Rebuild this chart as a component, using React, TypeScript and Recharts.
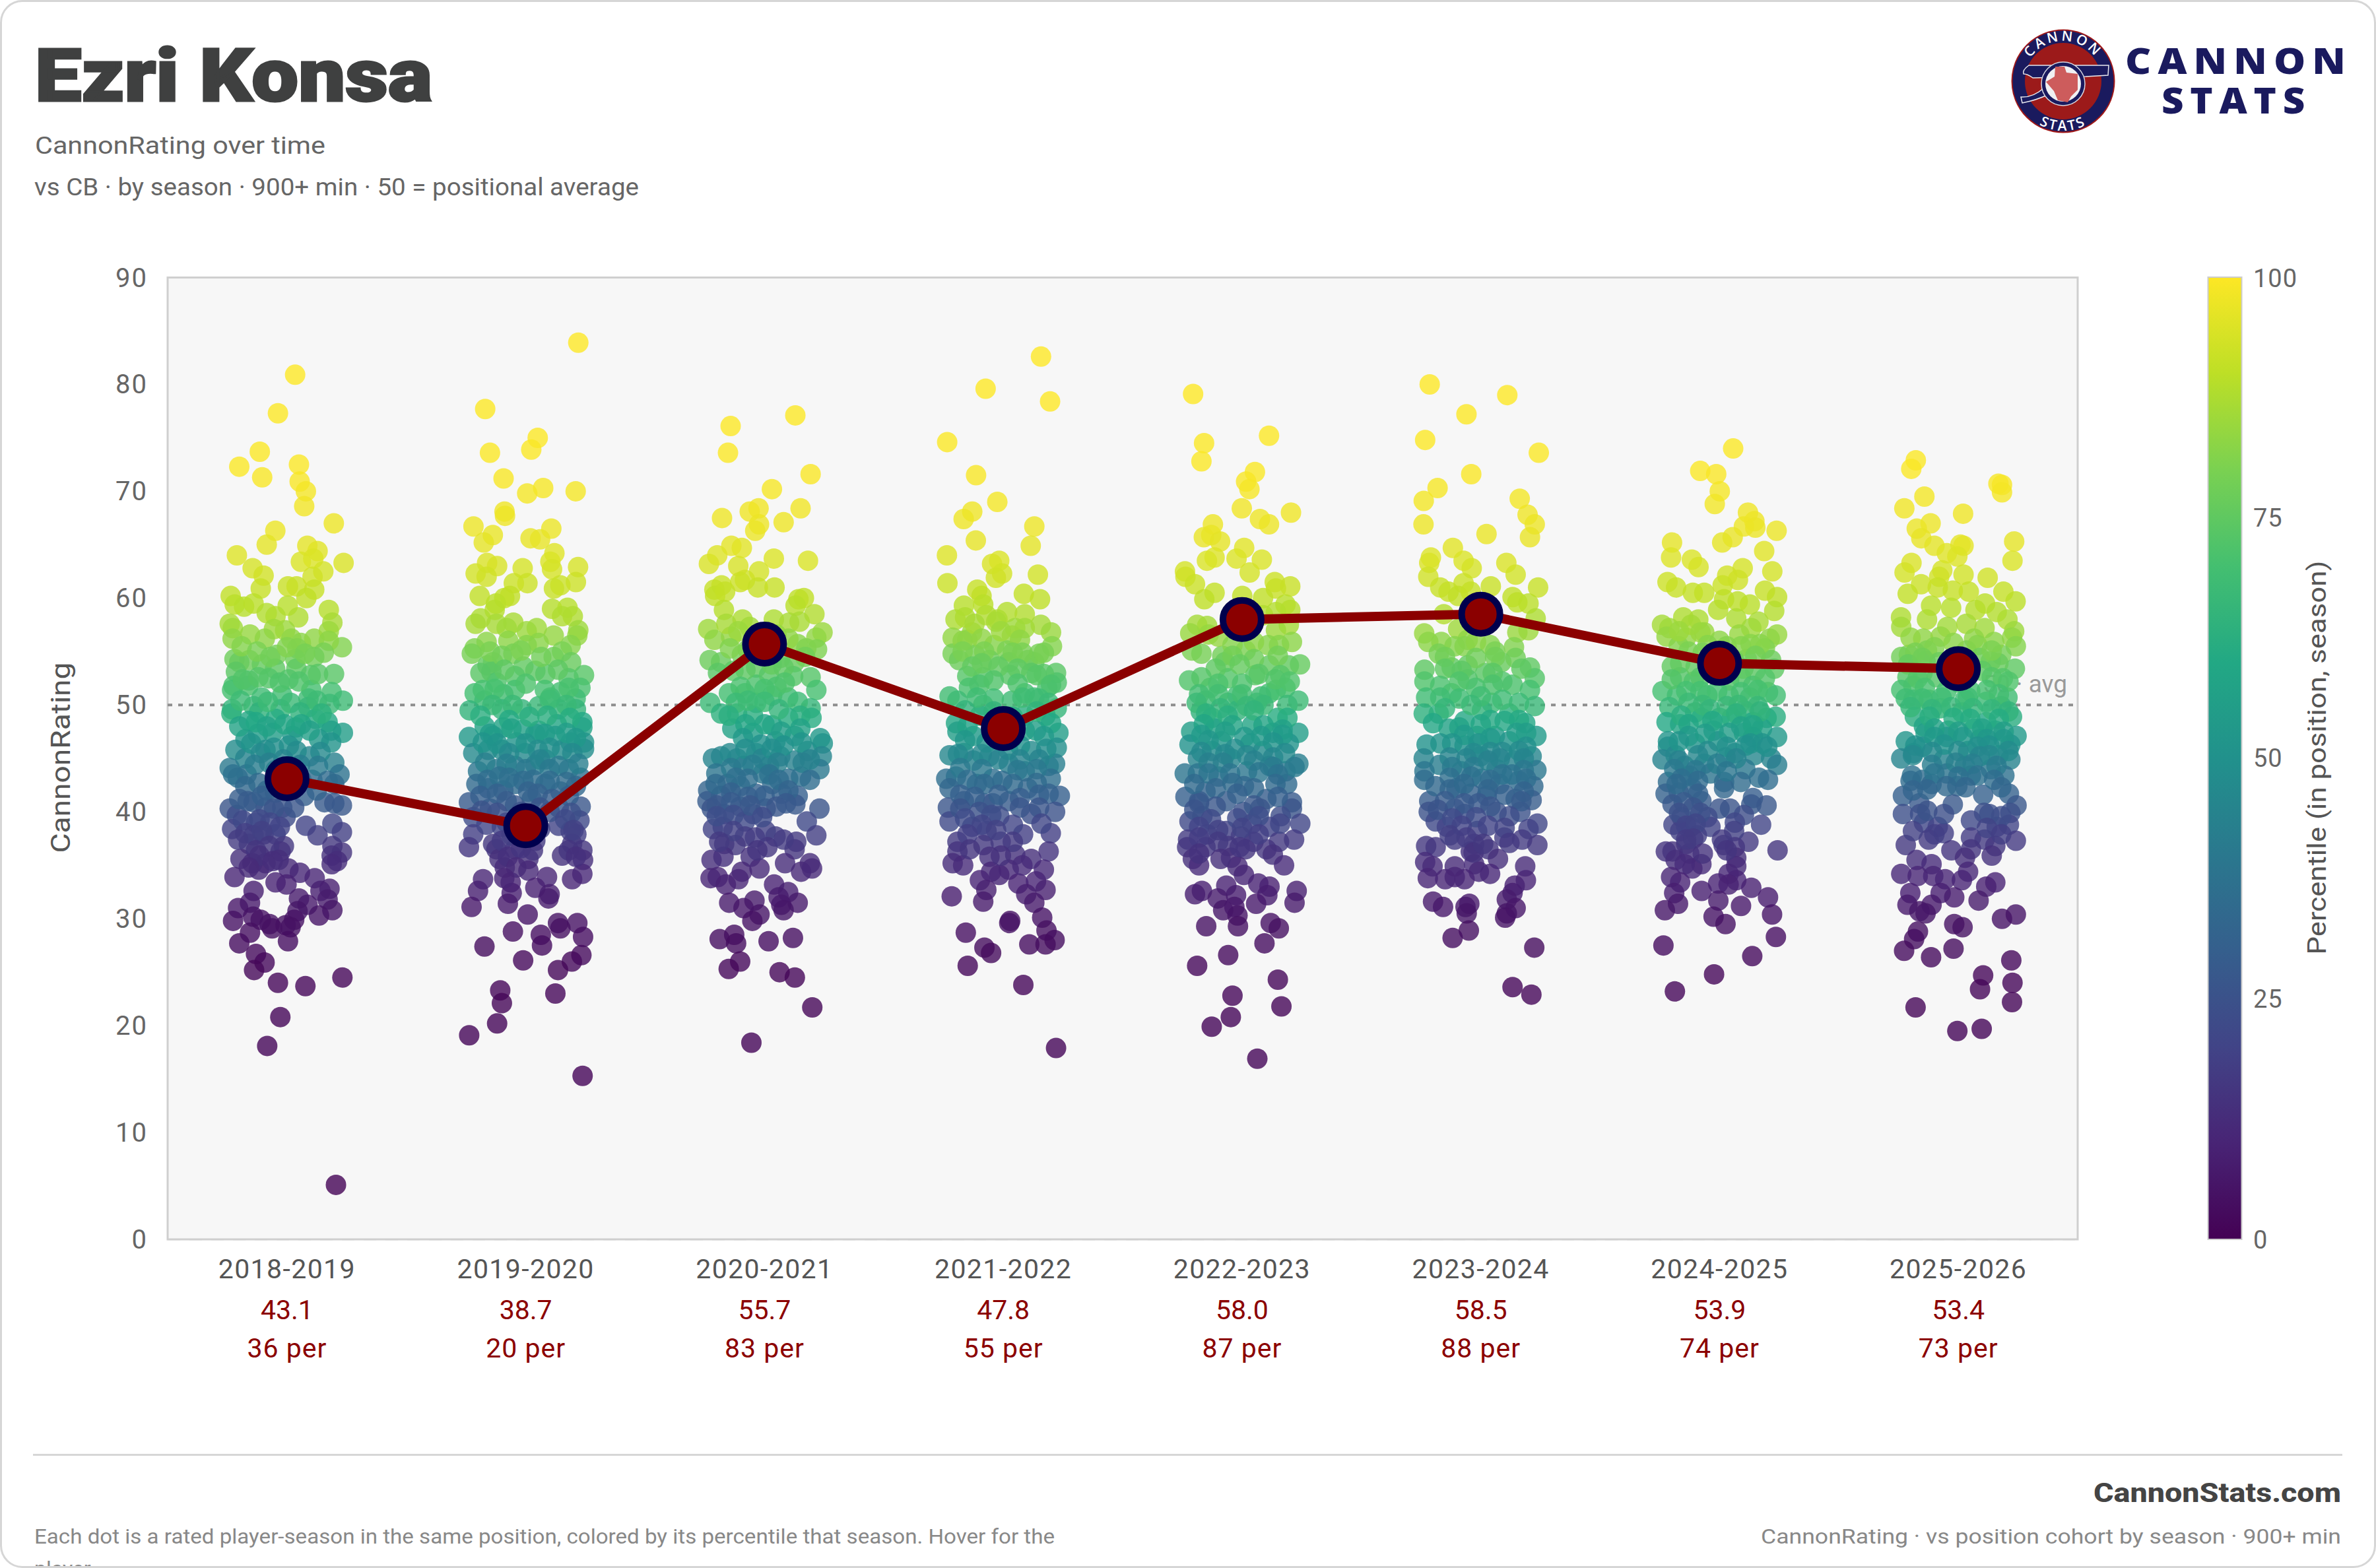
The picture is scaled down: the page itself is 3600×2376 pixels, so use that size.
import React from 'react';
import { ComposedChart, Scatter, XAxis, YAxis, CartesianGrid, ReferenceLine, ReferenceArea } from 'recharts';

const seasons = ['2018-2019','2019-2020','2020-2021','2021-2022','2022-2023','2023-2024','2024-2025','2025-2026'];
const seasonMeans = [43.1,38.7,55.7,47.8,58.0,58.5,53.9,53.4];
const seasonPercentiles = [36,20,83,55,87,88,74,73];
const yTicks = [0,10,20,30,40,50,60,70,80,90];
const colorbarTicks = [0,25,50,75,100];
const ratingToPercentile = [[0,0],[25,1.5],[30,5],[35,12],[38.7,20],[43.1,36],[47.8,57],[50,67],[53.5,75],[55.7,82],[58,87.5],[62,93],[66,97],[72,99.5],[84,100]];
const viridis = ['#440154','#482475','#414487','#355f8d','#2a788e','#21918c','#22a884','#44bf70','#7ad151','#bddf26','#fde725'];

// flat lists: jitter (percent of a season band), rating, jitter, rating ...
const dots2018 = [3.4,80.9,-3.8,77.3,-11.4,73.7,-20,72.3,-10.4,71.3,5,72.5,5.3,70.9,7.9,70,7.2,68.6,19.6,67,-4.9,66.3,-8.5,65,-21,64,8.5,64.9,12.8,64.4,5.8,63.4,11,63.7,23.7,63.3,-14.4,62.8,-9.8,62.1,15.2,62.5,10.7,62,-11,60.9,.4,61.1,4,61.1,11.4,60.8,8.1,60,-23.6,60.2,-21.9,59.4,-18,59.2,-14,59.5,.3,59.3,17.5,58.9,-8.5,58.6,-4.8,58.3,4.7,58.2,19,57.7,-24,57.6,-22.7,57.2,-22.8,56.2,-15.5,56.6,-.8,57,-5.5,57.1,-9.3,56.2,1.8,56.2,5.8,55.8,11.4,56.2,17.5,56.9,23,55.4,17.5,56,4.3,55.3,-22,54.3,-15.8,54.2,-20,54,-10.5,53.8,-4.4,54.7,3.5,54.3,15.4,54.9,11.4,54.5,3.9,53.4,-5,53.4,19.7,52.9,9.9,52.8,-21.4,53.1,-16,52.3,-7.6,52.5,.6,52.4,-22.4,51.8,-16.2,51.8,-23,51.4,10.2,51.4,-2,50.9,18.7,51.2,-10.6,50.7,9,50.6,23.4,50.4,17.8,50.1,-23,49.6,-14,49.9,-23.3,49.2,-2.7,49.6,8.9,49.8,-11.7,49.3,-16,48.5,-4.8,48.7,12,48.7,17,48.4,3.7,47.9,18.5,47.6,23.4,47.4,-12.2,47.3,-6,47.4,-17.4,46.8,2.3,47.1,13.4,46.8,18.5,46.5,.8,46.2,-21.6,45.8,-9,45.8,9.5,45.2,-17.5,45,19.8,44.6,-24,44.1,-22.6,43.5,-16.9,43.5,-20.6,43.2,22,43.5,-4.8,43.9,10.6,43,-8.4,42,19.8,42.6,7.2,41.5,15.7,40.9,23,40.6,19.8,40.8,-24,40.3,-14,40.9,-9,40.4,-2,40.4,-21,39.7,-.6,39.5,-13,39,7.9,38.7,19,38.9,-23,38.4,23,38.1,-4.8,37.9,-9.8,37.9,12.8,37.8,-16,37,-1.3,36.8,-2.7,36.3,19,36.8,23,36.2,18.7,35.9,21,35.4,18.7,35.1,-19.5,35.6,-9,35.2,-11.8,34.6,.6,34.7,5.4,34.3,-22,33.9,11.6,33.8,-4.8,33.4,-.2,33.2,-14,32.6,17.8,32.8,14,32.6,5,31.9,-15.5,31.5,17,31.8,-20.5,31,8.6,31.3,19,30.8,13.4,30.3,4.4,30.7,-14.2,30.2,-11,29.9,-22.6,29.8,3,29.9,-7.3,29.5,-.6,29.4,-6.2,29.1,1.5,29.2,-15.5,28.7,.4,27.9,-20,27.7,-13,26.7,-9.4,25.9,-13.8,25.2,-3.8,24,7.7,23.7,23.2,24.5,-2.8,20.8,-8.3,18.1,20.5,5.1];
const dots2019 = [22,83.9,-17,77.7,5,75,2.3,73.9,-15,73.6,-9.3,71.2,7.3,70.3,.6,69.8,20.9,70,-8.9,68.1,-8.7,67.7,-21.9,66.7,-13.8,65.9,10.7,66.5,-17.6,65.2,2,65.6,6,65.5,12,64.2,10.3,63.4,-16.2,63.3,-12,63,11,62.7,-1.3,62.8,21.9,62.9,-21,62.3,-16.4,62,-5,61.4,.7,61.4,21,61.5,11.8,60.9,14.5,61.2,-19.3,60.2,-6.6,60.2,-9,60,-12.5,59.5,11,59,17.5,59.1,-13,58.9,15.2,58.3,19.7,58.3,-18.9,58.1,-21,57.6,-5.2,57.7,-12.3,57.6,-8,57.2,4.6,57.2,22,57,.4,56.9,11.7,56.5,21.6,56.5,-16.4,55.9,-7.3,56,5.4,55.8,.4,55.6,18.8,55.6,-21.4,55.3,-22.6,54.8,15.2,55,-5.2,54.8,11.7,54.5,-13.7,54,-16,53.7,19,54,-1,53.6,4,53.2,8.2,52.9,24.4,52.8,-4.5,52.7,-14.4,53.1,17.9,52.5,-12.3,52.1,22.9,51.6,-4.5,51.4,14.5,51.2,-21.4,51.1,-9.4,51,10.3,50.7,-17.3,50.4,20.9,50.6,-23.5,49.5,-10,49.6,-1.7,49.6,5.4,49.9,13.8,49.6,21,49.6,23.7,48.4,-17.2,48,-9.4,47.9,-1,47.7,5.4,47.6,13,48.2,23.7,47.9,-23.8,47,-13.7,47.1,-3.8,46.5,4,47.3,12.4,47.1,18.8,46.5,24.4,46.5,-22,45.5,-15.8,45.8,-10,45.8,-.3,45.5,8.2,44.9,15.2,45.8,24.4,45.9,-20,43.8,-12.3,44,-4.5,44.3,4,44.4,13.8,44.3,23,43.2,-20.7,42.6,-15.8,42.2,-4.5,42.6,8.2,42.6,14.5,41.9,2.5,41.2,-9.4,42,-23.8,40.9,-15,40.3,-4.5,40.6,13.8,40.4,23,40.5,-22,39.5,22.5,39.2,-10,38.6,13.8,38.7,18.8,38.2,-22,37.9,21.2,37.9,-13.7,37,-23.8,36.7,4,37.3,19.4,37,-4.5,36.5,15.2,35.9,23.7,36.4,-12.3,36.5,1.1,35.6,24,35.5,-11,35.6,-8.8,34.8,1.1,34.5,23.7,34.2,-17.9,33.7,8.9,33.9,19.4,33.7,-6.3,33.4,-20,32.6,-5.9,32.4,4,32.9,10,32.3,9.5,31.9,-7.5,31.4,-22.7,31.1,.8,30.4,13.5,29.6,21.6,29.6,14.5,29.1,-5.4,28.8,6.3,28.5,24,28.3,-17.3,27.4,6.8,27.5,23.3,26.6,-1.1,26.1,19.3,26,13.5,25.2,-10.7,23.3,12.4,23,-10,22.1,-12,20.2,-23.7,19.1,23.8,15.3];
const dots2020 = [12.9,77.1,-14.2,76.1,-15.3,73.6,19.3,71.6,3.1,70.2,-17.8,67.5,-6.2,68.1,-2.5,68.4,15.1,68.4,8,67.1,-2.3,66.9,-3.9,66.3,-13.9,64.9,-9.5,64.7,-19.8,64,-23.3,63.2,3.9,63.7,18.2,63.5,-11,63,-2.3,62.5,-8.2,61.7,-10.2,61.5,-18,61.2,-21,60.8,-20.7,60.2,-16.5,60.6,-2.8,61,4.2,61,-17,58.9,16.5,60,14.2,59.9,13,59.3,20.9,58.5,-9.2,58,3.9,58,14.7,57.8,10.3,57.7,-23.6,57.1,-6.2,57.3,24.3,56.8,-14,56.4,-21,56.1,13.9,55.7,21.7,56.3,22,55.2,-23,54.2,-18.2,54,-9.5,54.7,12.6,54,-3.5,53.5,-19.5,53,12,52.7,19.3,52.6,-14.9,51.1,-3.5,51.9,1.9,52.8,21.7,51.4,-8.2,51.1,-22.8,50.2,-11.5,49.2,-18.2,49.2,-3.5,50.2,9.9,50.7,19.3,49.7,13.9,50.3,3.2,50.9,-13.5,47.8,-4.8,49,19.7,48.8,9.9,48.8,3.2,48.1,-4.8,47.4,12.6,47.1,4.6,46.6,23.3,46.9,-21.6,45,-18.2,45.2,-11.5,45,-3.5,45.5,18,45.7,24.4,46.4,24,45.2,6.6,45.2,1.9,44.3,12.6,44.8,23,44,-20.2,43.6,-.8,43.6,9.9,43.1,15.3,43.3,-8.8,44.3,-15.5,42.6,-23.6,42,3.2,42.6,-10.2,42.4,13.9,41.5,-3.5,41.7,7.2,41.7,-23.9,41,-18.2,41.5,12.9,40.7,23,40.3,-22.1,40.3,-10.2,40.5,.5,40.3,17.7,39.1,-16.9,39.8,-4.8,39.8,-21.6,38.4,-8.2,39.1,21.7,37.8,-17.5,38.6,4.6,37.7,-8.2,37.7,.5,38.2,13.3,37.2,-12.2,36.9,1.2,36.7,-16.9,37,12.6,36.5,-22.2,35.5,-17.2,35.8,-5.8,35.8,8.6,35.2,-2.1,34.7,19,35.2,-9.5,34.4,-22.6,33.8,15.3,34.4,19.9,34.7,-19.6,33.9,-10.9,33.7,-16.2,33.2,4,33.2,9.9,32.5,5.9,32,-14.8,31.5,-4.2,31.7,13.9,31.5,7,31.3,-8.8,31,8,30.8,-2.1,30.4,-5.1,29.8,-12.7,28.5,-18.8,28.1,-11.9,27.7,1.7,27.9,11.9,28.2,-10.2,26,-15,25.3,6.3,25,12.7,24.5,20,21.7,-5.5,18.4];
const dots2021 = [15.8,82.6,-7.4,79.6,19.6,78.4,-23.5,74.6,-11.4,71.5,-2.5,69,-13,68.1,-16.6,67.4,13,66.7,-11.5,65.4,11.5,64.9,-23.6,64,-1.7,63.5,-4.7,63.2,-.5,62.3,14.5,62.2,-3.1,61.9,-23.4,61.4,-10.9,60.8,-9.1,60.2,8.6,60.4,15.4,59.9,-16.5,59.3,-8.4,59.4,1.6,58.7,9,58.5,-20,58,-7.1,58.4,-2.4,58,9,57.2,15.7,57.5,20,56.8,-13.1,56.8,3.6,56.5,-21.2,56.3,-15.1,56.1,20.4,55.5,-3.8,55.6,-21.2,54.8,-11.8,54.7,1.6,55.1,13,54,10.3,54.2,-18.5,54.2,-5.8,54.2,2.3,54,-15.1,52.7,-8.4,52.6,22.1,53,11.7,53,22.4,52.1,2.9,52.8,-14.4,51.6,9,51.1,18.4,51.6,-22.5,50.8,-19.2,50.4,-8.4,50,3.6,50.4,13,50.7,22.4,49.7,-19.8,48.3,-9.8,49,9,49,17.7,49,-19.2,47.5,23.1,47.4,-12.5,47.1,13.7,47.6,22.4,46,3.6,46.9,-22.5,45.3,-16.5,45.5,-5.8,45.2,11.7,45.7,2.3,44.5,19,44.3,-12.5,44.8,21.7,44.5,-23.9,43.1,-4.4,43.1,9,43.8,19.9,43.1,-19.8,43.3,-11.1,42.6,-.4,42.9,-22.5,42.2,10.3,42.2,23.7,41.5,-16.5,41,-7.8,40.8,2.3,41,19,41.7,-23.2,40.4,-4.4,40.8,21.7,40,-22.5,39.1,11.7,39.8,-1.7,39.6,-13.1,38.6,8.3,37.9,-7,38.2,19.9,38,-19.2,37.2,-8.3,36.9,-1.1,37.2,-19.2,36.3,19,36.3,-21.2,35.2,5,36,-5.8,35.8,-16.8,35,11.7,35.6,-5.1,34.4,17,34.6,2.3,34.6,-9.8,33.6,-1.7,34.1,6.3,33.3,13.7,33.5,-7.1,32.7,-21.6,32.1,17.7,32.7,9.6,32.3,-8.4,31.6,13,31.5,16.3,30.1,2.9,29.8,2.5,29.6,-15.7,28.7,18.1,28.9,21.5,28,10.9,27.6,17.7,27.6,-7.9,27.3,-5.1,26.8,-14.9,25.6,8.4,23.8,22.1,17.9];
const dots2022 = [-20.5,79.1,-15.9,74.5,11.3,75.2,-17,72.8,5.4,71.8,1.7,70.9,3.1,70.2,-.1,68.4,20.5,68,7.5,67.4,11.3,66.9,-12.2,66.9,-16,65.7,-12.9,65.9,-9.2,65.3,.9,64.7,-11.5,63.8,-14.7,63.5,-2.3,63.7,8.3,63.6,-23.9,62.5,-23.7,62,3.2,62.4,-19.7,61.3,13.7,61.5,20.2,61.1,14.2,60.9,-11.5,60.5,-15.8,59.9,.1,60.2,8.8,60,18.2,59.4,20.2,58.9,14.2,58.7,8.8,58.4,-18.8,57.5,-14.6,57.4,-21.7,56.7,19.6,57.5,-14,56.6,14.2,57,-21,55.1,-8.3,54.6,20.9,55.9,10.9,55.6,15.5,55.6,1.5,55.1,-7.2,54,11.4,53.7,24.3,53.8,19.6,53.7,5.5,52.8,-22.2,52.3,-13.3,51.6,-5.9,52.5,11.4,51.1,18.2,51.6,-1.9,50.9,23.6,50.4,-15.3,50.4,-5.9,50.2,6.2,50.2,14.2,51.4,-17.3,49.4,14.9,48.8,-12.6,48.8,-1.9,49.5,4.2,48.1,-21.3,47.5,23.6,47.4,-11.3,47.8,12.9,47.4,-22,46.3,-8.6,46.6,19.6,46.4,3.5,46.4,-12.6,45.7,8.8,45.7,-18.5,45,23.6,44.5,-4.6,45,-24,43.6,-18.5,43.6,11.5,44.3,18.2,43.8,2.1,43.8,-9.9,43.3,18.9,42.6,-15.3,41.9,.8,42.4,10.2,41.2,-23.7,41.4,-6.6,41,20.9,40.9,-18,41,.5,40,7.5,40.3,20.9,40.3,-22,39.1,-16.6,39.6,16.2,39.6,24.4,38.9,-6.6,38.2,4.2,38.9,11.5,38.6,-14.6,37.9,-22.6,37.4,21.8,37.4,-.5,37.7,4.8,37.2,15.5,37.2,-23,36.7,-15.3,36.7,-5.9,36.8,1.5,36.5,10.2,36.5,-20.6,35.6,-4.6,35.7,12.9,36,-18,35,17.6,35,-1.9,34.9,.8,34.1,-6.6,33.1,6.8,33.3,11.5,33,22.9,32.6,-16.8,32.6,-19.7,32.3,-2.5,32.2,-10.2,31.9,10.6,32.2,22,31.5,-7.9,30.8,-3.2,31.1,5.9,31.4,-1.9,30.3,-15,29.3,12,29.6,-1.7,29.3,15.4,29.1,9.4,27.7,-5.8,26.6,-18.8,25.6,15,24.3,-4,22.8,16.5,21.8,-4.7,20.8,-12.7,19.9,6.4,16.9];
const dots2023 = [-21.4,80,11.1,79,-6,77.2,-23.3,74.8,24.3,73.6,-4,71.6,-18.1,70.3,-23.9,69.1,16.3,69.3,19.6,67.8,-24,66.9,22.6,66.9,2.4,66,20.6,65.7,-11.7,64.7,-20.9,63.8,-21.6,63.3,-7.2,63.5,10.7,63.3,-3.8,62.8,-22,62,14.6,62.2,-7.2,61.4,4.2,61.1,-17,61,24,61,-13.5,60.6,-9.5,60.2,13.3,60.1,15.3,59.6,-4.2,60.6,20,59.5,-15.5,58.5,23,58.1,-9.5,57.1,20,57,15.3,56.8,-23.7,56.7,-16.5,55.9,-5.5,56.1,-22,55.9,3.9,55.6,-6.8,55.5,13.9,55.4,-17.6,54.8,8.6,54,14.6,54.4,20.6,53.5,-5.5,53.7,-23.6,53.3,-12.2,53.5,1.9,53,-23.6,52.2,9,52.2,22.6,52.5,-5.5,52.4,-12.2,51.1,13.3,51.9,-2.1,51.6,-22.9,50.7,20.6,51.4,4.6,50.2,22.6,49.9,-17.6,49.2,-23.9,49.2,.5,49.5,11.9,49.2,-6.8,48.5,18.6,48.3,-13.5,47.8,5.9,47.1,23.3,47.1,-1.5,47.1,-22.7,46.3,11.9,46.6,-6.8,46.2,-16.9,46.4,21.3,45.2,-23.9,45,-.1,45.2,14,44.8,-17.3,44.4,-23.6,43.8,-8.2,43.8,6.6,44,23.3,43.9,.5,43.1,-23.7,43,15.9,42.9,-10.2,42.2,7.9,42.6,22,42.4,-4.2,41.7,2.5,41.5,14.6,41.2,21.3,41.1,-21.6,41,-10.9,40.3,-21.8,40,6.6,40,-18.9,39.1,-6.8,39.8,23.7,38.9,16.6,40,-14.2,38.6,-1.5,38.2,20,38.4,9.9,37.6,-10.9,37.4,17.3,37.4,-22.9,36.8,-2.8,37,-18.9,36.7,23.7,36.9,3.2,36.5,-4.2,36.3,7.2,35.6,-23.3,35.3,-10.9,34.9,18.6,34.9,-2.8,35.1,-20.2,34.9,-22.2,33.8,-14.9,33.7,-.8,34.4,-10.9,33.9,3.9,34.2,-6.8,33.7,18.9,33.6,14.2,33.1,13.3,32.4,10.9,31.8,-20,31.6,-15.8,31.1,-4.8,31.4,14.6,31,-6.4,31.1,-5.9,30.5,10.9,30.5,10.2,30.1,-5,28.9,-11.8,28.2,22.4,27.3,13.3,23.6,21.2,22.9];
const dots2024 = [5.7,74,-8.1,71.9,-1.4,71.6,.1,70,-2,68.8,11.9,68,10.2,66.7,14.6,67.2,15,66.6,23.9,66.3,5.5,65.7,1.1,65.2,-19.9,65.2,-20.3,63.8,18.7,64.4,-11.6,63.6,-8.8,62.9,22.1,62.5,9.7,62.8,3.2,62.1,7.7,61.7,-21.8,61.5,-18.2,61,1.3,61.2,19,60.7,24.1,60.1,-11.2,60.5,-6.4,60.5,1.9,59.9,12.7,59.4,7.6,59.7,22.9,58.8,-.6,58.9,-15.2,58.2,7,58.1,-8.9,58,16.3,57.8,-24.1,57.5,-21,57.2,13.3,57.2,-6.4,56.8,8.3,56.6,24.1,56.6,-22.2,56.4,-14,56.3,21,56.2,19,55.3,-17.1,55.5,-16.5,53.9,11.4,54.3,21.6,54.2,-16.5,52.6,22.9,53.4,-10.8,52.2,8.9,52.6,-23.9,51.3,3.8,50.9,-5.1,50.9,20.3,51.2,23.5,50.9,-17.8,50.9,12.7,50.7,-21,49.8,-10.2,49.3,10.2,49.5,0,48.8,23.5,48.9,19.7,48.8,-22.2,48.4,-7.6,48.8,14,48.4,5.1,48.8,-2.5,47.6,-16.5,48.2,17.8,47.8,24.1,47,10.2,47.4,-21.6,46.6,-10.2,46.4,14,47,-.6,46.6,-21.6,46.1,6.4,45.5,-23.9,44.9,2.5,45.1,-18.4,45.3,21.6,45,24.1,44.4,-14.6,44.3,14.6,45.3,-6.4,44.5,10.8,44,-3.8,43.6,-12.7,43.4,16.5,43.2,20.3,43,1.9,42.8,-21.6,42.8,8.9,42.8,-22.6,41.7,1.9,42.2,-11.4,42.2,-17.1,41.8,14,41.3,-7.6,41,19.7,40.6,-19.7,40.7,13.3,40.7,0,40.3,4.4,40.3,-15.9,39.5,10.2,39.7,-5.1,39.5,17.4,38.8,-19.3,38.8,6.4,39,-12.1,38.6,-3.8,38.6,-9.5,37.8,-16.5,38.2,12.1,37.2,-14,37,1.7,36.9,6.1,38.2,24.3,36.4,-22.5,36.3,6.4,36.7,-19.7,36.3,-12.7,36.1,-18.4,35.5,7,35.7,-7.6,35.1,-11.4,34.7,-14.6,35.1,7,34.9,3.8,34.2,-20.3,33.9,-16.5,33.4,-.6,33.3,7,33.6,3.8,33.2,13.3,32.9,-7.5,32.6,-19,32.4,20.3,32,-.5,31.7,-17.4,31.4,9,31.2,-22.9,30.8,22,30.4,-2.5,30.2,2.5,29.5,23.6,28.3,-23.5,27.5,13.7,26.5,-2.3,24.8,-18.7,23.2];
const dots2025 = [-17.8,72.9,-19.7,72.1,16.8,70.7,18.3,70.6,18.3,69.9,-14.2,69.5,-22.6,68.4,2,67.9,-11.6,67,-17.4,66.5,-15.5,65.6,.9,65,2.2,64.9,23.4,65.3,-10,64.9,-4.8,64.2,22.7,63.5,-19.6,63.3,-22.5,62.4,-.4,63.9,-6.7,62.6,2.2,62.2,-15.6,61.3,12.3,61.9,-8,62,-21.2,60.4,-8.6,61,4.4,60.6,18.9,60.6,24,59.7,-2.3,60.7,-11.4,59.3,11.2,59.5,-3,59.1,16.1,58.7,-24,58.2,-13.1,58,-23.9,57.3,7.2,58.9,20.6,58,-4.6,57.3,3.4,57.6,11,57.2,-14.7,56.2,23.4,56.9,-7.4,56.4,6.6,56.2,22.5,56.3,24.1,55.5,-13.1,55.1,3.4,55.1,-23.9,54.5,-20.7,54.7,18,54.7,13.6,54.1,23.7,53.4,-13.7,54.1,16.8,53.9,-21.3,52.6,18.7,52.5,-15,53,-23.9,51.4,-18.8,51.8,20.6,50.7,11.7,50.3,-12.4,50.5,2.8,50.5,-7.4,49.7,-18.8,50.5,1.5,49.3,18,49.9,-18.2,48.9,22.5,48.9,-14.4,48,11.7,48.4,-4.2,47.6,6.6,47.8,24.4,47.1,-13.7,47.4,15.5,47.6,-4.8,47,-22,46.6,9.1,46.8,21.8,46.3,-15,46.1,-23.9,45,-18.8,45.5,-6.1,44.9,4.1,45.7,16.8,45.3,21.8,44.9,2.8,44.3,13.6,44,-19.4,43.4,-15,43,-4.8,43.6,19.3,43.4,5.3,43.4,-11.2,42.6,-.4,42.4,-23.2,41.5,10.4,41.6,21.2,41.7,-16.3,40.8,-2.3,40.7,24.4,40.6,-23.2,39.8,21.8,39.9,10.8,39.9,-14.4,39,5.3,39.2,21.2,38.8,-8.6,38.6,16.1,38.6,-12.4,37.4,-6.1,38,24.1,37.3,5.3,37.6,-22,36.9,11,37.4,-2.9,36.4,15.5,36.8,5.3,36.5,14,35.9,-17.5,35.5,2.8,35.7,-23.9,34.2,-11.2,35.1,-17,34,4.1,34.4,-10.5,34,-5.5,33.7,15.5,33.4,1.5,33.6,-20.1,32.4,11.7,33,-7.4,32.4,-1.7,32,8.5,31.7,-21.3,31.3,-11.2,31.3,-13.7,30.5,-16.3,30.7,24.1,30.4,18.3,30,-1.7,29.5,1.8,29.2,-16.9,28.8,-18.5,28.1,-22.7,27,-2,27.2,-11.4,26.4,22.2,26.1,10.4,24.7,22.7,24,9.1,23.4,22.5,22.2,-17.9,21.7,9.8,19.7,-.4,19.5];
// the packed centre of each column, where single dots can no longer be told apart
const core2018 = [-19,55.5,-12.5,55,-7,54.5,0,55.4,7.5,54.8,-18.5,52.4,-12,52.6,-3,52.1,5,52.2,13,52.9,-19.5,50.4,-8,50.3,1.5,50.2,5.5,49.3,12.5,50.4,-20,48,-13,48.4,-8.5,48,-1,48.2,6,48.2,9.5,47.6,14.5,49.2,-15,46.4,-11,45.5,-5.5,46,4,45.7,14,45.6,-13.5,44.4,-7.5,44.6,-1.5,44.9,5.5,44.4,13,44.3,17,42.9,-17.5,42.4,-12,42.7,-5,41.8,1.5,42.6,6,43,12.5,42,-20,41.2,-16.5,41,-10.5,41.5,-5.5,40.3,3,40.4,-18.5,39.2,-11.5,39.3,-7,39,-3,38.6,-17.5,38,-14,37.8,-10.5,38.2,-20.5,37.4,-13,36.4,-7.5,36.8,-14.5,35.2,-11.5,35.9,-6,35.4,-16,34.8,-3.5,35.5];
const core2019 = [-15,55,-10,54.6,-2,55.1,6.5,54.5,-19,53,-9,53.3,13.5,53.3,-18,51.4,-13,51.5,0,52,8,51.4,18,51.6,-14,50,-5.5,50,10,50.5,17,50,-19,49,-7,48.6,1.5,48.9,9,49,18.5,48.8,-15,47.3,-6,47.8,8,47.3,17,47.4,21,46.9,-18,46.5,-12,46.4,-7,45.5,0,46.4,5,45.8,10,46,19.5,45.5,-17,44.6,-8,44.5,0,44,6,44.9,10,44,18,44,22,44.5,-16,43,-11,43.3,-7,43.2,-1,42.9,3,43,10,42.9,17,42.8,21,42.4,-19,41.5,-12,41.7,-8,41,1,41.9,5,41.7,11,41.2,18,41.5,-18.5,40.1,-12,39.9,-2,40,6,40.4,10,40,19,39.9,-16.5,38.8,-8,39,-1.5,39.4,3,38.8,16.5,39.3,20,38.3,-10,37.3,-6,37.8,-1,37.6,6,38.4,18,36.4,-7.5,35.8,-2,36.6,3,36.4,21,35.8,-4,34.8,-9,33.8];
const core2020 = [-16,57.6,-11,56.9,-3,56.5,5,56.6,10,56.2,17.5,55.3,-14.5,55.3,-7,55.2,0,55,6.5,54.4,17,54.5,-13,53.2,-8,53.3,3,53.8,8,53.5,-10,51.7,0,51.5,5,51.7,8.5,52.1,-12,50.2,-7,50.4,0,50.3,6,49.6,15,49,-15,49,-8,48.2,0,48.2,7,47.5,15,47.8,-9,46.9,-1.5,46.3,8,46.2,15.5,46.5,-8,45.9,-14.5,45.5,-1,45,3,45.9,19,44.9,-14,44.1,-5,44.4,5.5,44.6,16,44.6,-12,43.2,-7,43.1,2,43.5,6,43,19,43,-20.5,42.6,-14,41.8,-7,41.4,0,41.5,10,42,-20,40.6,-14,40.9,-6,40.6,5,40.5,9,40.8,-20,39.6,-13,39.7,-1,39.5,-13,38.2,-4,37.6,-19,37.2,8,37.4,-3,36.4];
const core2021 = [-16,58.2,-12,57.6,-3,57.8,5,57.2,-17,56,-9,56.2,-1,56.9,7,56.1,15,54.8,-17,55,-8,55,4,54.9,8,54.9,17,54.9,-13,53.6,-9,53.9,-2,53.6,6,53.4,17,52.9,-10,51.9,-4,52.3,6,52,14,52.8,20,51.9,-11,50.7,-4,50.6,8,50.7,15,50.6,19,50.2,-16,49.5,-4,49.4,4,48.9,14,49.4,20,48.3,-15,48,-5,47.9,3,48.1,9,47.6,17,47.1,-16,46.7,-7,46.5,2,45.8,7,46.2,18,45.9,-19,45.4,-9,45.4,-2,44.9,7,44.9,15,44.9,-18,44.1,-9,44,6,43.9,14,44,-15,43,-8,42.6,4,42.6,14,42.7,-18,41.6,-12,41.4,-2,41.6,7,41.3,15,41.6,-18,40.3,-10,40,-5,39.7,7,40.4,15,40.4,-16,39.4,-9,38.8,4,38.8,16,38.9,-15,37.9,-3,38.3,4,37.2,-14,36.5,-1,35.9,8,35];
const core2022 = [-10,56.4,-4,55.6,5,55.9,-17,54.8,-4,54.6,5,54.3,15,54.6,-11,53.4,-1,53.8,7,52.9,16,52.8,-17,52.6,-10,52,0,52,14,52.4,20,52.2,-18,51,-10,51,0,51,8,50.8,-19,50.2,-9,49.7,2,49.9,9,50,19,50,-15,49.2,-6,49,5,49.5,19,48.8,-16,48.2,-4,48.1,9,48.1,17,47.7,-17,47.2,-7,47.5,1,47,8,47.1,17,47.2,-14,46.7,-3,45.9,13,46.5,-17,45.6,-7,45.4,2,45.3,13,45.1,18,45.5,-14,44.6,-8,44.6,5,44.8,13,44.2,22,44.2,-14,43.6,-5,43.6,7,43.7,15,43.5,-20,42.6,-11,42.2,-4,42.7,5,42.2,14,42.6,-18,40.8,-11,40.5,-2,41.7,5,40.6,15,41.4,-20,40.2,-13,39.3,-2,39.4,7,39.6,16,38.9,-18,38.6,-10,38.3,0,38.5,7,37.9,-18,37.6,-10,37.2,-1,36.7,-18,36.1,-9,35.6];
const core2023 = [-11,55.5,-2,55.9,6,55,-15,54.5,-2,54.4,6,54.5,-15,53.4,-8,53.2,5,53,17,53.4,-17,51.8,-9,52.2,5,51.9,-17,50.7,-9,50.6,0,50.8,9,50.5,16,50.2,-15,49.7,-4,50,4,48.6,16,48.6,-20,48.3,-9,47.9,0,48.2,10,48.5,19,47.4,-7,47.2,-1,46.4,4,46.9,15,47.4,19,46.1,-12,46.4,-3,45.5,4,45.6,9,45.6,16,45.7,-13,45.1,-6,45,8,45,18,45,-12,44.2,-3,44.2,3,44.8,9,43.5,18,43.9,-13,43.2,-4,43.3,4,43,13,43.5,19,43.1,-19,42.4,-13,42.1,-7,42.6,3,42.1,10,41.6,18,41.9,-15,41,-7,40.8,-1,40.8,4,40.5,17,41,-18,40.2,-12,39.4,-2,39.5,12,39.6,-8,38.7,3,38.7,10,38.5,-6,37.6,-13,37.8,-3,36.2,1,37,12,37.1];
const core2024 = [-12,57.5,-8,56.8,0,56,13,55.7,-17,56.9,-5,55.6,3,55.5,9,55.5,17,55.7,-13,55,-7,54.9,1,54.6,6,54.2,15,54.6,-20,53.6,-10,53.6,-3,53.8,3,53.6,10,53.4,15,53.2,-20,52.4,-8,52.6,-1,52.7,4,52.3,14,51.8,19,52.5,-14,51.3,-8,51.3,-1,51.3,9,51.2,16,51.4,-13,50.2,-7,50,3,49.9,8,50,16,49.9,-16,49,-4,49.6,7,49.2,17,49.4,-13,48.2,-3,48.5,9,48,14,48.1,-13,47.1,-6,47.3,4,47.4,13,46.4,18,46.4,-17,46.6,-5,45.7,3,46.1,11,46.2,20,46.1,-17,44.8,-9,45.3,7,45,-19,44,-10,43.9,-1,44.5,3,43.8,-16,43.1,-9,42.9,-18,42.6,-9,41.7,-15,40.9,-11,40.4,-17,39.9,-8,39.9,-14,38.7,-10,38.9,-14,37.4,-11,37.5,1,37.4,3,36.4,-7,36.1];
const core2025 = [-20,56.3,-10,55.4,-2,55.8,8,55.6,15,55.9,-18,54.9,-8,54,0,54.3,9,54.4,14,55.1,-21,53.8,-15,54.4,-4,53.1,5,53,10,53.2,-17,52.5,-9,52.6,0,52.1,14,52.6,21,52.2,-14,51.6,-5,51.3,5,51.3,17,51,-22,50.6,-15,50.6,-7,50.7,4,50.7,12,51.4,-20,49.8,-11,49.6,-3,49.8,6,49.7,14,49.6,21,49.4,-12,48.9,-2,48.8,5,48.7,17,48.7,-10,47.8,0,47.5,10,47.8,19,47.5,-10,47,2,47,12,46.8,19,46.8,-18,46.2,-6,46.3,8,46.1,13,46.2,-19,45.3,-11,45.6,0,45.7,9,45.2,13,45.3,21,45.7,-11,44.4,-1,44.6,6,44.5,16,44.3,-20,42.9,-10,43.6,0,43.3,8,43.4,15,43,-19,42,-13,42.1,-5,42.4,3,42.3,18,42.3,-16,39.8,-13,40.1,-6,39.8,13,39.8,18,39.6,-19,38.2,-10,37.9,12,38.5,18,37.9];
const dotLists = [dots2018.concat(core2018),dots2019.concat(core2019),dots2020.concat(core2020),dots2021.concat(core2021),dots2022.concat(core2022),dots2023.concat(core2023),dots2024.concat(core2024),dots2025.concat(core2025)];

const hexToRgb = (h: string) => [1,3,5].map(i => parseInt(h.slice(i,i+2),16));
const viridisAt = (p: number) => {
  const t = Math.max(0,Math.min(100,p))/10;
  const i = Math.min(9,Math.floor(t));
  const a = hexToRgb(viridis[i]); const b = hexToRgb(viridis[i+1]);
  const f = t-i;
  return `rgb(${a.map((v,k)=>Math.round(v+(b[k]-v)*f)).join(',')})`;
};
const percentileOf = (r: number) => {
  for (let i=1;i<ratingToPercentile.length;i++){
    const [r0,p0]=ratingToPercentile[i-1]; const [r1,p1]=ratingToPercentile[i];
    if (r<=r1) return p0+(p1-p0)*(r-r0)/(r1-r0);
  }
  return 100;
};
const cohortDots = dotLists.flatMap((list,s)=>{
  const out: any[] = [];
  for (let i=0;i<list.length;i+=2) out.push({x:s+list[i]/100,y:list[i+1],fill:viridisAt(percentileOf(list[i+1]))});
  return out;
});
const meanSeries = seasonMeans.map((y,x)=>({x,y}));

const FONT = 'Roboto, sans-serif';

const Dot = (p: any) => <circle cx={p.cx} cy={p.cy} r={15.5} fill={p.payload.fill} fillOpacity={0.8} />;
const MeanDot = (p: any) => <circle cx={p.cx} cy={p.cy} r={29} fill="#8b0000" stroke="#00004d" strokeWidth={10} />;

const SeasonTick = (p: any) => {
  const i = p.payload.value;
  return (
    <g fontFamily={FONT} textAnchor="middle">
      <text x={p.x} y={1937} fontSize={41} fill="#555" letterSpacing={1.4}>{seasons[i]}</text>
      <text x={p.x} y={1999} fontSize={41} fill="#8b0000">{seasonMeans[i].toFixed(1)}</text>
      <text x={p.x} y={2057} fontSize={41} fill="#8b0000" letterSpacing={1}>{seasonPercentiles[i]} per</text>
    </g>
  );
};
const YTick = (p: any) => (
  <text x={224} y={p.y+14} textAnchor="end" fontFamily={FONT} fontSize={40} fill="#666" letterSpacing={2}>{p.payload.value}</text>
);
const AvgLabel = (p: any) => {
  const v = p.viewBox;
  return <text x={v.x+v.width-16} y={v.y-19} textAnchor="end" fontFamily={FONT} fontSize={37} fill="#999">50 · avg</text>;
};

const T = (p: any) => <text fontFamily={FONT} lengthAdjust="spacingAndGlyphs" {...p} />;
const OPEN = "'Open Sans', sans-serif";

const Logo = () => (
  <g>
    <circle cx={3126} cy={123} r={77.5} fill="#1a1a5e" stroke="#a01818" strokeWidth={2} />
    <circle cx={3126} cy={123} r={58} fill="#9c1a1a" />
    <defs>
      <path id="arcTop" d="M 3065 123 A 61 61 0 0 1 3187 123" />
      <path id="arcBot" d="M 3051 123 A 75 75 0 0 0 3201 123" />
    </defs>
    <text fontFamily={OPEN} fontSize={21} fontWeight={600} fill="#fff" letterSpacing={4}>
      <textPath href="#arcTop" startOffset="50%" textAnchor="middle">CANNON</textPath>
    </text>
    <text fontFamily={OPEN} fontSize={21} fontWeight={600} fill="#fff" letterSpacing={3}>
      <textPath href="#arcBot" startOffset="50%" textAnchor="middle">STATS</textPath>
    </text>
    <path d="M3096 134 Q3080 148 3062 147 L3064 156 Q3085 152 3104 143 Z" fill="#1a1a5e" stroke="#e8e8ee" strokeWidth={1.5} />
    <path d="M3074 99 L3195 99 L3194 114 L3160 116 L3080 118 Q3072 112 3066 112 Q3064 106 3074 99 Z" fill="#1a1a5e" stroke="#e8e8ee" strokeWidth={1.5} />
    <circle cx={3126} cy={127} r={33} fill="#1a1a5e" stroke="#d8d8e0" strokeWidth={1.5} />
    <circle cx={3126} cy={127} r={27} fill="#f0f0f2" />
    <path d="M3114 101 L3128 101 L3131 110 L3148 112 L3148 136 L3138 146 L3133 155 L3118 152 L3112 138 L3100 124 L3113 116 Z" fill="#cd5c5c" />
  </g>
);

export default function App() {
  return (
    <div style={{position:'absolute',left:0,top:0,width:3600,height:2376,boxSizing:'border-box',border:'3px solid #d6d6d6',borderRadius:34,background:'#fff',overflow:'hidden'}}>
      <div style={{position:'absolute',left:-3,top:-3}}>
        <ComposedChart width={3600} height={2376} margin={{top:420.5,right:452,bottom:348,left:54}}>
          <XAxis type="number" dataKey="x" domain={[-0.5,7.5]} ticks={[0,1,2,3,4,5,6,7]} interval={0} height={150} axisLine={false} tickLine={false} tick={<SeasonTick/>} />
          <YAxis type="number" dataKey="y" domain={[0,90]} ticks={yTicks} width={200} axisLine={false} tickLine={false} tick={<YTick/>} />
          <ReferenceArea x1={-0.5} x2={7.5} y1={0} y2={90} fill="#f7f7f7" fillOpacity={1} stroke="#cfcfcf" strokeWidth={3} />
          <CartesianGrid vertical={false} stroke="rgba(0,0,0,0.1)" strokeWidth={3} strokeDasharray="19 14" />
          <ReferenceLine y={50} stroke="#8e8e8e" strokeWidth={4} strokeDasharray="7 9" label={<AvgLabel/>} />
          <Scatter data={cohortDots} shape={<Dot/>} isAnimationActive={false} />
          <Scatter data={meanSeries} shape={<MeanDot/>} line={{stroke:'#8b0000',strokeWidth:14}} lineType="joint" isAnimationActive={false} />
        </ComposedChart>
      </div>
      <svg width={3600} height={2376} style={{position:'absolute',left:-3,top:-3,pointerEvents:'none'}}>
        <defs>
          <linearGradient id="vir" x1="0" y1="1" x2="0" y2="0">
            {viridis.map((c,i)=><stop key={c} offset={`${i*10}%`} stopColor={c} />)}
          </linearGradient>
        </defs>
        <T x={53} y={153} fontSize={111} fontWeight={900} fill="#3f4040" stroke="#3f4040" strokeWidth={3} textLength={602}>Ezri Konsa</T>
        <T x={53} y={233} fontSize={36} fill="#666" textLength={440}>CannonRating over time</T>
        <T x={52} y={296} fontSize={36} fill="#666" textLength={916}>vs CB · by season · 900+ min · 50 = positional average</T>
        <Logo/>
        <text x={3220} y={112} fontFamily={OPEN} fontSize={54} fontWeight={800} fill="#1a1a5e" letterSpacing={9} textLength={344} lengthAdjust="spacingAndGlyphs">CANNON</text>
        <text x={3275} y={172} fontFamily={OPEN} fontSize={54} fontWeight={800} fill="#1a1a5e" letterSpacing={9} textLength={227} lengthAdjust="spacingAndGlyphs">STATS</text>
        <T x={0} y={0} fontSize={40} fill="#555" textAnchor="middle" textLength={289} transform="translate(106 1148) rotate(-90)">CannonRating</T>
        <rect x={3345.5} y={420} width={51} height={1458} fill="url(#vir)" stroke="#ccc" strokeWidth={2} />
        {colorbarTicks.map(v=>(
          <text key={v} x={3414} y={1878-v*14.58+(v===100?15:v===0?14:13)} fontFamily={FONT} fontSize={38} fill="#666" letterSpacing={1}>{v}</text>
        ))}
        <T x={0} y={0} fontSize={38} fill="#555" textAnchor="middle" textLength={597} transform="translate(3524 1148) rotate(-90)">Percentile (in position, season)</T>
        <rect x={50} y={2203} width={3499} height={3} fill="#d6d6d6" />
        <T x={52} y={2339} fontSize={32} fill="#888" textLength={1546}>Each dot is a rated player-season in the same position, colored by its percentile that season. Hover for the</T>
        <T x={52} y={2388} fontSize={32} fill="#888">player</T>
        <T x={3547} y={2276} fontSize={41} fontWeight={800} fill="#444" textAnchor="end" textLength={375}>CannonStats.com</T>
        <T x={3547} y={2339} fontSize={32} fill="#888" textAnchor="end" textLength={879}>CannonRating · vs position cohort by season · 900+ min</T>
      </svg>
    </div>
  );
}
